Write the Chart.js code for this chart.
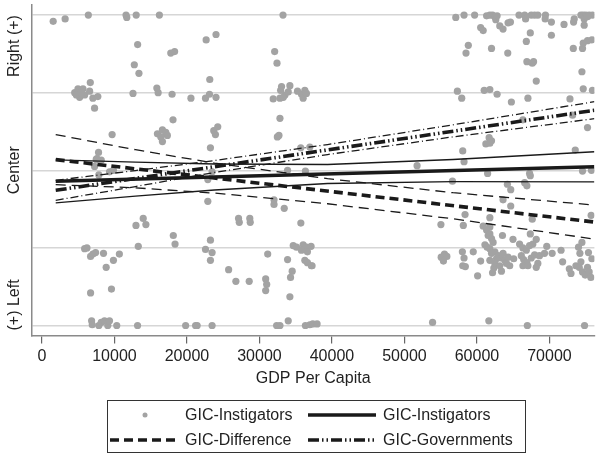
<!DOCTYPE html>
<html>
<head>
<meta charset="utf-8">
<title>GIC positions by GDP per capita</title>
<script src="https://cdn.jsdelivr.net/npm/chart.js@4.4.1/dist/chart.umd.min.js"></script>
<style>
  html, body { margin: 0; padding: 0; background: #fff; }
  #wrap { width: 598px; height: 454px; position: relative; }
</style>
</head>
<body>
<div id="wrap"><canvas id="chart"></canvas></div>
<script>
// x ticks and the left/right words on the y axis
const gdpTicks = [0, 10000, 20000, 30000, 40000, 50000, 60000, 70000];
const positionTicks = [-2, -1, 0, 1, 2];
const positionLabels = ['(+) Left', 'Center', 'Right (+)'];

// jittered observations [gdp per capita, position]
const scatterPoints = [
  [1550, 1.92], [3200, 1.95], [6400, 2.0], [11600, 2.0], [11700, 1.97], [13000, 2.0], [16200, 2.0], [33250, 2.0],
  [13200, 1.62], [12740, 1.36], [13380, 1.25], [17770, 1.51], [18300, 1.53], [22650, 1.68], [24010, 1.75],
  [23150, 1.17], [32100, 1.53], [32420, 1.38],
  [4520, 1.0], [4970, 1.05], [5660, 1.05], [5200, 0.94], [5890, 0.97], [6580, 1.02], [6670, 1.13], [7030, 0.93],
  [7710, 0.95], [7260, 0.8], [4750, 0.97], [5440, 1.0],
  [12560, 0.99], [15850, 1.06], [16030, 1.0], [17950, 0.98], [20550, 0.93], [22560, 0.93], [23110, 0.98], [24010, 0.94],
  [31900, 0.92], [32830, 0.93], [33050, 1.08], [33520, 0.97], [33970, 1.01], [34200, 1.09], [33290, 0.94], [32920, 1.03],
  [35250, 1.02], [35800, 0.98], [36260, 1.03], [36030, 0.93], [36480, 0.99],
  [18080, 0.65], [15930, 0.47], [16620, 0.52], [17080, 0.49], [17300, 0.45], [16620, 0.37], [16400, 0.43], [9680, 0.46],
  [23700, 0.51], [24250, 0.56], [23930, 0.46], [23240, 0.29], [32830, 0.67], [32470, 0.43], [32690, 0.45],
  [35700, 0.29], [36950, 0.3], [7810, 0.23], [7490, 0.14], [8180, 0.13],
  [7260, 0.05], [7850, -0.06], [9320, -0.02], [9860, 0.0], [7580, 0.15], [23470, -0.02], [22880, -0.12],
  [22880, -0.4], [33880, 0.0], [36340, -0.01],
  [12970, -0.71], [13970, -0.62], [14340, -0.7], [13290, -0.98], [18120, -0.84], [18360, -0.95],
  [27120, -0.62], [27220, -0.67], [28670, -0.62], [28730, -0.67], [32010, -0.38], [32010, -0.44], [33420, -0.49], [35710, -0.68],
  [5890, -1.01], [6210, -1.0], [6710, -1.11], [7030, -1.08], [7400, -1.06], [8490, -1.07], [8860, -1.25], [9860, -1.16],
  [10680, -1.08], [6710, -1.58], [9590, -1.53],
  [22560, -1.02], [23240, -0.9], [23470, -1.06], [23240, -1.16], [25750, -1.28], [26750, -1.43], [28590, -1.43],
  [31140, -1.08], [30860, -1.4], [31000, -1.47], [30860, -1.55], [33880, -1.15], [34520, -1.3], [34290, -1.38], [34200, -1.63],
  [34660, -0.97], [35110, -0.99], [36030, -0.96], [36480, -0.99], [36620, -1.05], [35790, -1.03], [36260, -1.16],
  [36620, -1.19], [37160, -1.23], [37120, -0.98], [37260, -1.23],
  [6850, -1.94], [6940, -1.99], [7850, -2.0], [8180, -1.96], [8630, -1.94], [9080, -2.0], [9320, -1.94], [10320, -2.0],
  [13190, -2.0], [19820, -2.0], [21190, -2.0], [21410, -2.0], [23470, -2.0], [32370, -2.0], [32830, -2.0], [33970, -1.94],
  [36340, -2.0], [36950, -1.99], [37360, -1.98], [37950, -1.98],
  // richer countries
  [53880, -1.96], [61640, -1.94], [66950, -2.0], [74840, -2.0],
  [51740, 0.06], [56620, -0.14], [61470, -0.04], [64200, -0.18], [64660, -0.25], [66580, -0.16], [66890, -0.2],
  [67260, -0.04], [67360, -0.07], [63600, -0.38], [64660, -0.46], [74560, -0.01], [75790, 0.0], [75750, -0.58],
  [55030, -0.7], [58120, -0.71], [58360, -0.57], [61780, -0.61], [60860, -0.72], [61780, -0.73], [67630, -0.63],
  [55070, -1.12], [55520, -1.08], [55850, -1.11], [55380, -1.17], [57990, -1.05], [58220, -1.13], [58040, -1.23],
  [58400, -1.24], [59490, -1.05], [60090, -1.36], [60510, -1.17], [62150, -1.32], [62330, -1.26], [63380, -1.3],
  [61330, -0.77], [61550, -0.84], [61780, -0.82], [62010, -0.88], [62230, -0.93], [61100, -0.96], [61410, -0.99],
  [61780, -1.01], [62470, -1.05], [62920, -1.1], [63380, -1.13], [63840, -1.16], [64070, -1.2], [64520, -1.23],
  [64290, -1.12], [63600, -1.07], [62700, -1.14], [62010, -1.07], [61780, -1.16], [62470, -1.2], [63150, -1.23],
  [63520, -0.84], [64970, -0.89], [65070, -1.14],
  [65880, -0.95], [66340, -1.0], [66810, -1.03], [67260, -0.97], [67710, -0.95], [68180, -0.89], [67360, -0.82],
  [66120, -1.1], [66440, -1.15], [66890, -1.19], [67490, -1.13], [67950, -1.09], [68630, -1.1], [68400, -1.2],
  [69320, -1.07], [69630, -0.98], [70370, -1.07], [68180, -1.25], [66340, -1.23], [67030, -1.23],
  [71600, -1.03], [71820, -1.18], [72740, -1.27], [72970, -1.33], [73650, -1.23], [74110, -1.25], [74340, -1.18],
  [74560, -1.31], [74930, -1.35], [75250, -1.25], [75480, -1.31], [74200, -1.07], [75380, -1.06], [75850, -1.14],
  [75710, -1.38], [74010, -0.99], [74480, -0.93],
  [57080, 1.97], [58220, 2.0], [59680, 2.0], [61330, 1.99], [61780, 2.0], [62150, 2.0], [62470, 1.98], [62600, 1.94],
  [62780, 1.99], [65800, 2.0], [66580, 2.0], [66710, 1.95], [67490, 2.0], [67950, 2.0], [68400, 2.0], [69450, 2.0],
  [69410, 1.95], [70270, 1.91], [72010, 1.88], [73330, 1.91], [73420, 1.95], [74340, 2.0], [74660, 2.0], [75020, 2.0],
  [75480, 2.0], [75930, 2.0], [74790, 1.95], [74790, 1.87], [75250, 1.98], [64290, 1.9], [64620, 1.91],
  [63150, 1.86], [63600, 1.82], [60510, 1.84], [60860, 1.8],
  [58810, 1.61], [58490, 1.51], [62010, 1.57], [64250, 1.51], [67360, 1.77], [66810, 1.66], [70270, 1.74],
  [66890, 1.4], [67630, 1.38], [67810, 1.4], [68180, 1.15], [73290, 1.57], [74560, 1.57], [74660, 1.64],
  [75250, 1.67], [75850, 1.68], [74480, 1.27],
  [57300, 1.02], [57900, 0.93], [61000, 1.03], [61780, 1.04], [62780, 0.98], [64750, 0.88], [67030, 0.93],
  [72830, 0.92], [74660, 1.05], [75930, 1.03],
  [61680, 0.42], [62010, 0.38], [61230, 0.34], [61780, 0.35], [58040, 0.25], [58220, 0.11],
  [73560, 0.26], [73190, 0.71], [75250, 0.55], [66340, 0.65]
];

// fitted lines (end points) and confidence bands
const fitGdp = [1900, 76200];
const instigatorsFit = [-0.142, 0.045];
const differenceFit = [0.138, -0.667];
const governmentsFit = [-0.258, 0.774];

const ciGdp = [1900, 12900, 23800, 39400, 56700, 76200];
const instigatorsUpper = [0.135, 0.105, 0.081, 0.075, 0.139, 0.239];
const instigatorsLower = [-0.419, -0.334, -0.254, -0.170, -0.145, -0.148];
const differenceUpper = [0.461, 0.265, 0.093, -0.108, -0.289, -0.448];
const differenceLower = [-0.185, -0.226, -0.294, -0.431, -0.625, -0.886];
const governmentsUpper = [-0.129, -0.003, 0.126, 0.332, 0.586, 0.884];
const governmentsLower = [-0.387, -0.209, -0.028, 0.203, 0.431, 0.665];

const toXY = (xs, ys) => xs.map((x, i) => ({ x: x, y: ys[i] }));

const THICK = 3.6;
const THIN = 1.3;
const SOLID = [];
const DASH_THICK = [9, 5];
const DASH_THIN = [10, 6];
const DASHDOT_THICK = [11, 3, 1.5, 3, 1.5, 3];
const DASHDOT_THIN = [8, 3, 1, 3];

function lineSet(label, data, width, dash, slot) {
    return {
        label: label,
        data: data,
        showLine: true,
        borderColor: '#1a1a1a',
        borderWidth: width,
        borderDash: dash,
        pointRadius: 0,
        pointHoverRadius: 0,
        fill: false,
        tension: 0,
        legendSlot: slot,
        order: 1
    };
}

// legend drawn as a boxed 2x2 grid under the axis
const boxedLegend = {
    id: 'boxedLegend',
    afterDraw(chart) {
        const ctx = chart.ctx;
        const area = chart.chartArea;
        const w = 418, h = 52;
        const left = Math.round((area.left + area.right) / 2 - w / 2 + 3);
        const top = 400;
        ctx.save();
        ctx.strokeStyle = '#333';
        ctx.lineWidth = 1;
        ctx.setLineDash([]);
        ctx.strokeRect(left + 0.5, top + 0.5, w, h);
        ctx.font = '16px "Liberation Sans", Arial, sans-serif';
        ctx.fillStyle = '#222';
        ctx.textBaseline = 'middle';
        chart.data.datasets.forEach(ds => {
            if (ds.legendSlot === undefined) return;
            const col = ds.legendSlot % 2;
            const row = Math.floor(ds.legendSlot / 2);
            const y = top + 15 + row * 25;
            const x0 = left + (col ? 201 : 3);
            const x1 = x0 + 68;
            if (ds.showLine) {
                ctx.strokeStyle = ds.borderColor;
                ctx.lineWidth = ds.borderWidth;
                ctx.setLineDash(ds.borderDash || []);
                ctx.beginPath();
                ctx.moveTo(x0, y);
                ctx.lineTo(x1, y);
                ctx.stroke();
                ctx.setLineDash([]);
            } else {
                ctx.fillStyle = ds.backgroundColor;
                ctx.beginPath();
                ctx.arc((x0 + x1) / 2 + 1, y, 2.5, 0, Math.PI * 2);
                ctx.fill();
            }
            ctx.fillStyle = '#222';
            ctx.textAlign = 'left';
            ctx.fillText(ds.label, x1 + 7, y + 1);
        });
        ctx.restore();
    }
};

// rotated words along the y axis
const sideLabels = {
    id: 'sideLabels',
    afterDraw(chart) {
        const ctx = chart.ctx;
        const y = chart.scales.y;
        const x = 15;
        ctx.save();
        ctx.font = '16px "Liberation Sans", Arial, sans-serif';
        ctx.fillStyle = '#222';
        ctx.textBaseline = 'middle';
        const put = (text, py, align) => {
            ctx.save();
            ctx.translate(x, py);
            ctx.rotate(-Math.PI / 2);
            ctx.textAlign = align;
            ctx.fillText(text, 0, 0);
            ctx.restore();
        };
        put(positionLabels[2], y.getPixelForValue(positionTicks[4]), 'right');
        put(positionLabels[1], y.getPixelForValue(positionTicks[2]), 'center');
        put(positionLabels[0], y.getPixelForValue(positionTicks[0]) + 5, 'left');
        ctx.restore();
    }
};

Chart.defaults.font.family = '"Liberation Sans", Arial, sans-serif';
Chart.defaults.font.size = 16;
Chart.defaults.color = '#222';

const ctx = document.getElementById('chart').getContext('2d');
new Chart(ctx, {
    type: 'scatter',
    data: {
        datasets: [
            lineSet('GIC-Instigators', toXY(fitGdp, instigatorsFit), THICK, SOLID, 1),
            lineSet('GIC-Difference', toXY(fitGdp, differenceFit), THICK, DASH_THICK, 2),
            lineSet('GIC-Governments', toXY(fitGdp, governmentsFit), THICK, DASHDOT_THICK, 3),
            lineSet('', toXY(ciGdp, instigatorsUpper), THIN, SOLID),
            lineSet('', toXY(ciGdp, instigatorsLower), THIN, SOLID),
            lineSet('', toXY(ciGdp, differenceUpper), THIN, DASH_THIN),
            lineSet('', toXY(ciGdp, differenceLower), THIN, DASH_THIN),
            lineSet('', toXY(ciGdp, governmentsUpper), THIN, DASHDOT_THIN),
            lineSet('', toXY(ciGdp, governmentsLower), THIN, DASHDOT_THIN),
            {
                label: 'GIC-Instigators',
                data: scatterPoints.map(p => ({ x: p[0], y: p[1] })),
                backgroundColor: '#a3a3a3',
                borderWidth: 0,
                pointRadius: 3.6,
                pointHoverRadius: 3.6,
                legendSlot: 0,
                order: 5
            }
        ]
    },
    options: {
        responsive: true,
        maintainAspectRatio: false,
        animation: false,
        events: [],
        layout: { padding: { left: 0, right: 0, top: 5, bottom: 64 } },
        plugins: {
            legend: { display: false },
            tooltip: { enabled: false }
        },
        scales: {
            x: {
                type: 'linear',
                min: -1370,
                max: 76200,
                afterBuildTicks: scale => { scale.ticks = gdpTicks.map(v => ({ value: v })); },
                ticks: {
                    padding: 3,
                    maxRotation: 0,
                    color: '#222',
                    callback: v => String(v)
                },
                grid: {
                    drawOnChartArea: false,
                    drawTicks: true,
                    tickLength: 8,
                    color: '#666',
                    lineWidth: 1.2
                },
                border: { color: '#8a8a8a', width: 1.5 },
                title: {
                    display: true,
                    text: 'GDP Per Capita',
                    color: '#222',
                    padding: { top: 0, bottom: 2 }
                }
            },
            y: {
                type: 'linear',
                min: -2.13,
                max: 2.13,
                afterBuildTicks: scale => { scale.ticks = positionTicks.map(v => ({ value: v })); },
                afterFit: scale => { scale.width = 32; },
                ticks: { display: false },
                grid: {
                    drawTicks: false,
                    color: '#d6d6d6',
                    lineWidth: 1.5
                },
                border: { color: '#8a8a8a', width: 1.5 }
            }
        }
    },
    plugins: [sideLabels, boxedLegend]
});
</script>
</body>
</html>
